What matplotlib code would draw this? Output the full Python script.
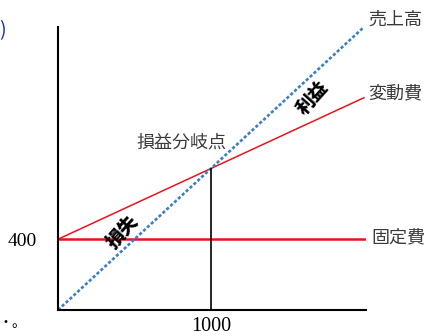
import numpy as np
import matplotlib.pyplot as plt

jp = ['Noto Sans CJK JP', 'DejaVu Sans']
serif = 'Liberation Serif'

# break-even model
fixed_cost = 400
unit_price = 0.8
unit_var = 0.4
q = np.array([0, 2000])
sales = unit_price * q
var_total = fixed_cost + unit_var * q
bep_q = fixed_cost / (unit_price - unit_var)
bep_y = unit_price * bep_q

fig = plt.figure(figsize=(4.25, 3.32), dpi=100)
ax = fig.add_axes([58/425, 22/332, 307.5/425, 283/332])
ax.set_xlim(0, 2010)
ax.set_ylim(0, 1600)

for s in ['top', 'right']:
    ax.spines[s].set_visible(False)
for s in ['left', 'bottom']:
    ax.spines[s].set_linewidth(1.5)
    ax.spines[s].set_zorder(5)

ax.axhline(fixed_cost, color='#e8141c', lw=1.8, zorder=2)
ax.plot(q, var_total, color='#e8141c', lw=1.1, zorder=3)
ax.plot(q, sales, color='#3c7fc4', lw=1.9, dashes=(1.2, 0.8), zorder=3)
ax.vlines(bep_q, 0, bep_y, color='black', lw=1.2, zorder=4)

ax.set_xticks([bep_q])
ax.set_xticklabels(['%d' % bep_q], fontfamily=serif, fontsize=14.5)
ax.set_yticks([fixed_cost])
ax.set_yticklabels(['%d' % fixed_cost], fontfamily=serif, fontsize=14)
ax.tick_params(axis='x', length=0, pad=5)
ax.tick_params(axis='y', length=0, pad=15)

lab = dict(family=jp, fontsize=13, color='#3a3a3a', va='center', clip_on=False)
ax.text(2030, 1640, '売上高', **lab)
ax.text(2030, 1227, '変動費', **lab)
ax.text(2050, 413, '固定費', **lab)
ax.text(810, 944, '損益分岐点', ha='center', **lab)

big = dict(family=jp, fontsize=13.5, fontweight='heavy', color='black',
           ha='center', va='center', rotation=48)
ax.text(1665, 1199, '利益', **big)
ax.text(425, 441, '損失', **big)

fig.text(6/425, 1 - 31/332, ')', ha='right', va='center', color='#1a2fc8',
         fontsize=14, family=jp)
fig.text(-1/425, 1 - 323/332, '・。', ha='left', va='center', color='black',
         fontsize=10, family=jp)

fig.savefig('out.png', dpi=100)
